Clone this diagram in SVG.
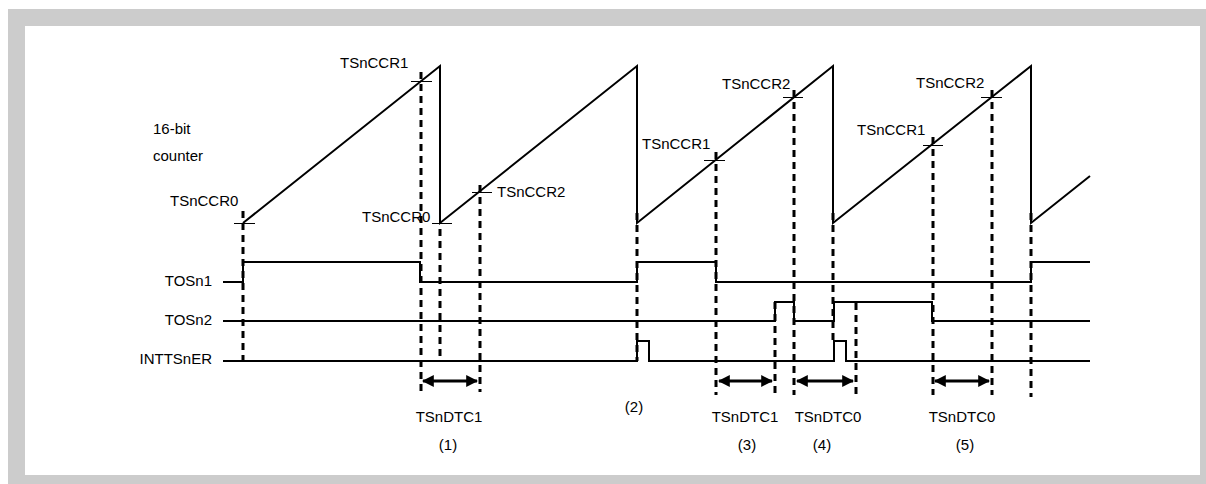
<svg xmlns="http://www.w3.org/2000/svg" width="1206" height="484" viewBox="0 0 1206 484">
<defs>
<style>
text{font-family:"Liberation Sans",Arial,sans-serif;font-size:15px;fill:#000}
.sig{fill:none;stroke:#000;stroke-width:2}
.dash{fill:none;stroke:#000;stroke-width:3;stroke-dasharray:7 5}
.tick{fill:none;stroke:#000;stroke-width:1}
.arr{fill:none;stroke:#000;stroke-width:3;marker-start:url(#ah);marker-end:url(#ah)}
</style>
<marker id="ah" viewBox="0 0 10 10" refX="9" refY="5" markerWidth="4" markerHeight="4" orient="auto-start-reverse" markerUnits="strokeWidth">
<path d="M0,0 L10,5 L0,10 Z" fill="#000"/>
</marker>
</defs>
<g id="frame">
<rect x="8" y="9" width="1198" height="475" fill="#cccccc"/>
<rect x="25" y="26" width="1175" height="449" fill="#ffffff"/>
</g>
<g id="counter">
<path class="sig" d="M243,223 L440,66 L440,223 L637,66 L637,223 L833,66 L833,223 L1031,66 L1031,223 L1090,176"/>
<text x="153" y="134">16-bit</text>
<text x="153" y="161">counter</text>
</g>
<g id="ticks">
<path class="tick" d="M234,223.5 H255 M411,81.5 H432 M432,223.5 H452 M472,192.5 H492 M704,160.5 H725 M783,97.5 H803 M923,145.5 H943 M981,97.5 H1002"/>
<text x="170" y="206">TSnCCR0</text>
<text x="340" y="68">TSnCCR1</text>
<text x="362" y="222">TSnCCR0</text>
<text x="497" y="197">TSnCCR2</text>
<text x="642" y="149">TSnCCR1</text>
<text x="722" y="89">TSnCCR2</text>
<text x="857" y="135">TSnCCR1</text>
<text x="916" y="88">TSnCCR2</text>
</g>
<g id="TOSn1">
<text x="212" y="286" text-anchor="end">TOSn1</text>
<path class="sig" d="M223,282 H243 V262 H420 V282 H637 V262 H716 V282 H1031 V262 H1090"/>
</g>
<g id="TOSn2">
<text x="212" y="325" text-anchor="end">TOSn2</text>
<path class="sig" d="M223,321 H775 V302 H794 V321 H834 V302 H932 V321 H1090"/>
</g>
<g id="INTTSnER">
<text x="212" y="364" text-anchor="end">INTTSnER</text>
<path class="sig" d="M223,361 H637 V341 H649 V361 H834 V341 H846 V361 H1090"/>
</g>
<g id="connectors">
<path class="dash" d="M243,211 V361"/>
<path class="dash" d="M421,72 V392"/>
<path class="dash" d="M440,229 V357"/>
<path class="dash" d="M480,185 V392"/>
<path class="dash" d="M637,213 V361"/>
<path class="dash" d="M716,152 V395"/>
<path class="dash" d="M775,302 V395"/>
<path class="dash" d="M794,90 V395"/>
<path class="dash" d="M833,213 V341"/>
<path class="dash" d="M856,303 V395"/>
<path class="dash" d="M933,137 V395"/>
<path class="dash" d="M992,90 V395"/>
<path class="dash" d="M1031,213 V397"/>
<path class="arr" d="M423,381 H477"/>
<path class="arr" d="M719,381 H772"/>
<path class="arr" d="M797,381 H853"/>
<path class="arr" d="M935,381 H989"/>
</g>
<g id="labels">
<text x="449" y="422" text-anchor="middle">TSnDTC1</text>
<text x="448" y="450" text-anchor="middle">(1)</text>
<text x="634" y="412" text-anchor="middle">(2)</text>
<text x="745" y="422" text-anchor="middle">TSnDTC1</text>
<text x="747" y="450" text-anchor="middle">(3)</text>
<text x="828" y="422" text-anchor="middle">TSnDTC0</text>
<text x="822" y="450" text-anchor="middle">(4)</text>
<text x="962" y="422" text-anchor="middle">TSnDTC0</text>
<text x="965" y="450" text-anchor="middle">(5)</text>
</g>
</svg>
